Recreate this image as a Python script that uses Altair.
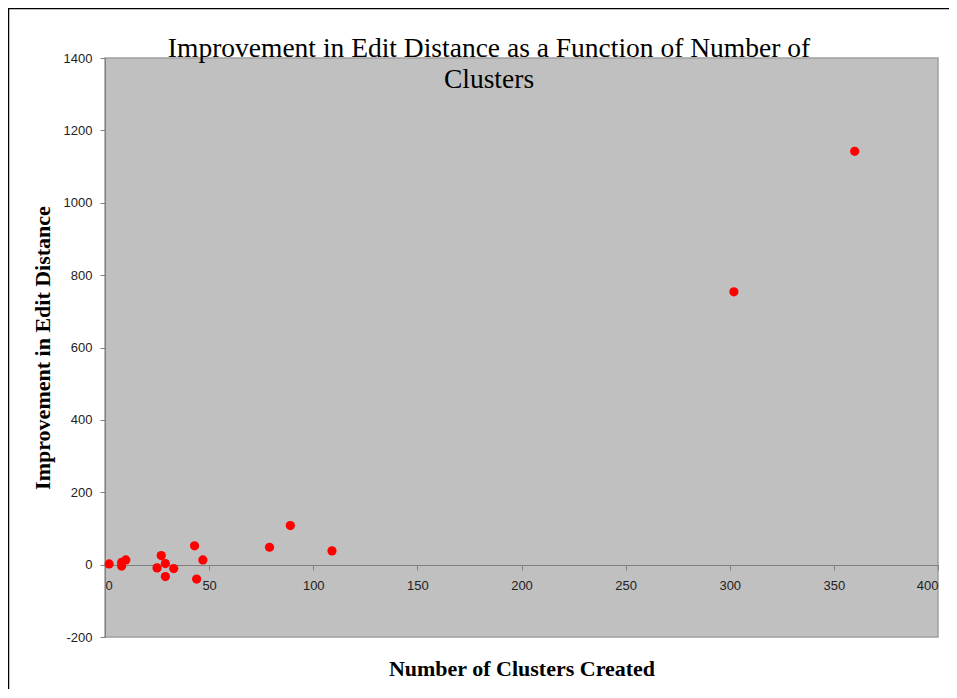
import altair as alt
import pandas as pd

clusters = [2, 8, 8, 10, 25, 27, 29, 29, 33, 43, 44, 47, 79, 89, 109, 302, 360]
improvement = [2, -4, 6, 13, -9, 25, 3, -33, -11, 52, -40, 13, 48, 108, 38, 754, 1142]

x_ticks = [0, 50, 100, 150, 200, 250, 300, 350, 400]
y_ticks = [-200, 0, 200, 400, 600, 800, 1000, 1200, 1400]

title_lines = ["Improvement in Edit Distance as a Function of Number of", "Clusters"]

df = pd.DataFrame({"clusters": clusters, "improvement": improvement})
deco = pd.DataFrame({"k": [0]})

W, H = 833, 579

points = alt.Chart(df).mark_circle(size=85, color="#FF0000", opacity=1).encode(
    x=alt.X("clusters:Q",
            scale=alt.Scale(domain=[0, 400], nice=False),
            axis=alt.Axis(values=x_ticks, title="Number of Clusters Created",
                          labelExpr="'' + datum.value",
                          offset=-72, grid=False, domainColor="#808080",
                          tickColor="#808080", tickSize=5, labelPadding=9,
                          labelFont="Liberation Sans", labelFontSize=13,
                          labelColor="#222222",
                          titleFont="Liberation Serif", titleFontSize=22,
                          titleFontWeight="bold", titleColor="#000000",
                          titleX=W / 2, titleY=110, titleBaseline="alphabetic")),
    y=alt.Y("improvement:Q",
            scale=alt.Scale(domain=[-200, 1400], nice=False),
            axis=alt.Axis(values=y_ticks, title="Improvement in Edit Distance",
                          labelExpr="'' + datum.value",
                          grid=False, domainColor="#808080",
                          tickColor="#808080", tickSize=5, labelPadding=8,
                          labelFont="Liberation Sans", labelFontSize=13,
                          labelColor="#222222",
                          titleFont="Liberation Serif", titleFontSize=22,
                          titleFontWeight="bold", titleColor="#000000",
                          titleX=-56, titleY=H / 2, titleAngle=-90,
                          titleBaseline="alphabetic")),
)

frame_left = alt.Chart(deco).mark_rule(color="#000000", strokeWidth=1.5).encode(
    x=alt.value(-96.5), y=alt.value(-50), y2=alt.value(H + 60))
frame_top = alt.Chart(deco).mark_rule(color="#000000", strokeWidth=1.5).encode(
    x=alt.value(-97), x2=alt.value(W + 20), y=alt.value(-49.5))

title1 = alt.Chart(deco).mark_text(
    font="Liberation Serif", fontSize=27.5, color="#000000", align="center",
    baseline="alphabetic").encode(
    x=alt.value(384), y=alt.value(-1), text=alt.value(title_lines[0]))
title2 = alt.Chart(deco).mark_text(
    font="Liberation Serif", fontSize=27.5, color="#000000", align="center",
    baseline="alphabetic").encode(
    x=alt.value(384), y=alt.value(30), text=alt.value(title_lines[1]))

chart = alt.layer(frame_left, frame_top, points, title1, title2).properties(
    width=W, height=H,
    autosize=alt.AutoSizeParams(type="none"),
    padding={"left": 97, "top": 50, "right": 11, "bottom": 52},
).configure(background="#FFFFFF"
).configure_view(fill="#C0C0C0", stroke="#A0A0A0", strokeWidth=1.5)

chart.save("out.html", embed_options={"renderer": "svg", "actions": False})
